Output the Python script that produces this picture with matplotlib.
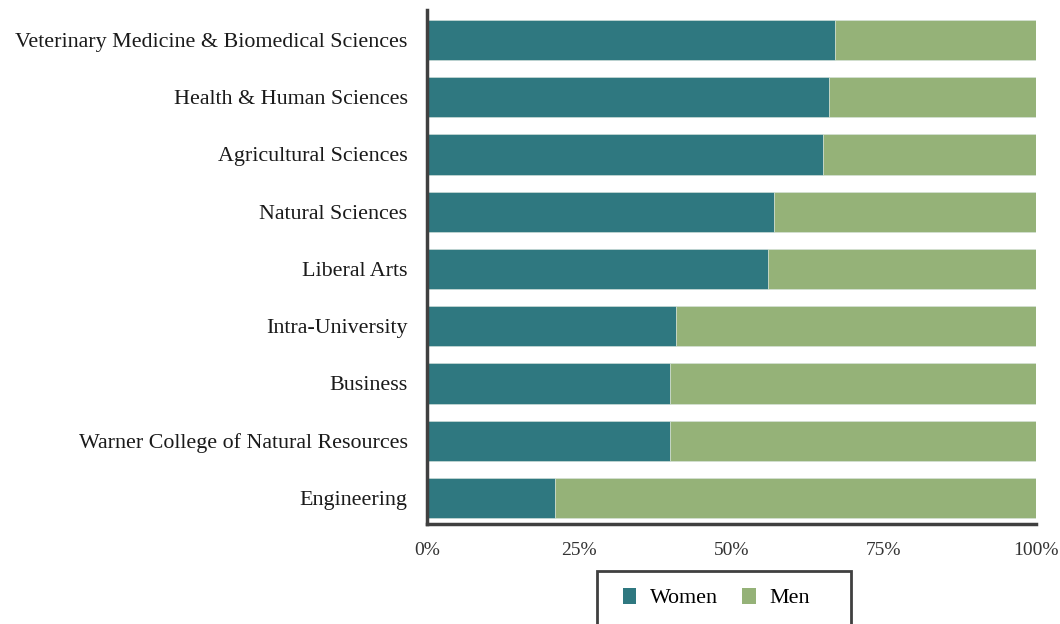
import matplotlib.pyplot as plt
from matplotlib.patches import Rectangle
import numpy as np

# colleges, bottom to top
colleges = ['Engineering', 'Warner College of Natural Resources', 'Business',
            'Intra-University', 'Liberal Arts', 'Natural Sciences',
            'Agricultural Sciences', 'Health & Human Sciences',
            'Veterinary Medicine & Biomedical Sciences']
women = [0.21, 0.40, 0.40, 0.41, 0.56, 0.57, 0.65, 0.66, 0.67]
men = [1 - w for w in women]
tick_labels = ['0%', '25%', '50%', '75%', '100%']

WOMEN_COLOR = '#2F7880'
MEN_COLOR = '#95B278'
SPINE_COLOR = '#404040'

plt.rcParams['font.family'] = ['Liberation Serif', 'DejaVu Serif']

def main():
    fig = plt.figure(figsize=(10.6, 6.24), dpi=100)
    ax = fig.add_axes([0.4028, 0.1603, 0.5741, 0.8237])

    y = np.arange(len(colleges))
    ax.barh(y, women, height=0.7, color=WOMEN_COLOR, edgecolor='#d8e4dc', linewidth=0.4, label='Women')
    ax.barh(y, men, left=women, height=0.7, color=MEN_COLOR, edgecolor='#d8e4dc', linewidth=0.4, label='Men')

    ax.set_xlim(0, 1)
    ax.set_ylim(-0.454, 8.524)
    ax.set_yticks(y)
    ax.set_yticklabels(colleges, fontsize=15.8, color='#1a1a1a')
    ax.set_xticks([0, 0.25, 0.5, 0.75, 1.0])
    ax.set_xticklabels(tick_labels, fontsize=14, color='#333333')
    ax.tick_params(axis='both', length=0)
    ax.tick_params(axis='x', pad=13)
    ax.tick_params(axis='y', pad=14)

    ax.spines['top'].set_visible(False)
    ax.spines['right'].set_visible(False)
    for s in ['left', 'bottom']:
        ax.spines[s].set_color(SPINE_COLOR)
        ax.spines[s].set_linewidth(2.5)

    leg = fig.legend(loc='center', bbox_to_anchor=(0.676, 0.0417), ncol=2,
                     fontsize=15.8, frameon=False,
                     handlelength=0.6, handleheight=0.75, handletextpad=0.65,
                     columnspacing=1.1, borderpad=0, borderaxespad=0)
    for h in leg.legend_handles:
        h.set_edgecolor('none')

    # legend box runs past the bottom edge of the figure
    fig.patches.append(Rectangle((597 / 1060, -0.05), 254 / 1060, 0.05 + 53 / 624,
                                 transform=fig.transFigure, fill=False,
                                 edgecolor=SPINE_COLOR, linewidth=2))

    fig.savefig('out.png', dpi=100)

if __name__ == '__main__':
    main()
